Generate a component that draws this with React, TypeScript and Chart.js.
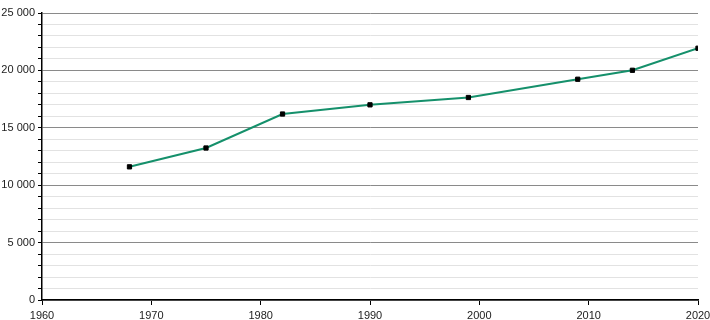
import React, { useEffect, useRef } from "react";
import { Chart, registerables } from "chart.js";

Chart.register(...registerables);

const years = [1968, 1975, 1982, 1990, 1999, 2009, 2014, 2020];
const population = [11600, 13240, 16200, 17000, 17640, 19230, 20010, 21930];
const xTicks = [1960, 1970, 1980, 1990, 2000, 2010, 2020];

const fmt = (v: number) =>
  String(v).replace(/\B(?=(\d{3})+(?!\d))/g, " ");

export default function App() {
  const ref = useRef<HTMLCanvasElement | null>(null);
  useEffect(() => {
    if (!ref.current) return;
    const chart = new Chart(ref.current, {
      type: "line",
      data: {
        datasets: [
          {
            data: years.map((y, i) => ({ x: y, y: population[i] })),
            borderColor: "#15906b",
            borderWidth: 2,
            pointStyle: "rect",
            pointRadius: 3,
            pointBorderWidth: 1,
            pointBackgroundColor: "#000",
            pointBorderColor: "#000",
            tension: 0,
          },
        ],
      },
      options: {
        animation: false,
        responsive: false,
        layout: { padding: { top: 13, right: 12, left: 0, bottom: 0 } },
        plugins: { legend: { display: false }, tooltip: { enabled: false } },
        scales: {
          x: {
            type: "linear",
            min: 1960,
            max: 2020,
            afterBuildTicks: (axis: any) => {
              axis.ticks = xTicks.map((v) => ({ value: v }));
            },
            afterFit: (axis: any) => {
              axis.height = 20;
              axis.paddingLeft = 0;
              axis.paddingRight = 0;
            },
            ticks: {
              callback: (v: any) => String(v),
              color: "#222",
              font: { family: "Liberation Sans, Arial", size: 11 },
              maxRotation: 0,
              padding: 4,
            },
            grid: {
              drawOnChartArea: false,
              drawTicks: true,
              tickLength: 5,
              tickColor: "#000",
            },
            border: { color: "#000", width: 1.5 },
          },
          y: {
            min: 0,
            max: 25000,
            afterFit: (axis: any) => {
              axis.width = 42;
              axis.paddingTop = 0;
              axis.paddingBottom = 0;
            },
            ticks: {
              stepSize: 1000,
              autoSkip: false,
              callback: (v: any) => (v % 5000 === 0 ? fmt(v) : ""),
              color: "#222",
              font: { family: "Liberation Sans, Arial", size: 11 },
              padding: 3,
            },
            grid: {
              color: (ctx: any) =>
                ctx.tick && ctx.tick.value % 5000 === 0 ? "#8a8a8a" : "#e2e2e2",
              lineWidth: 1,
              tickLength: 4,
              tickColor: "#000",
            },
            border: { color: "#000", width: 1.5 },
          },
        },
      },
    });
    return () => chart.destroy();
  }, []);
  return (
    <div style={{ position: "fixed", left: 0, top: 0, width: 710, height: 320, background: "#fff" }}>
      <canvas ref={ref} width={710} height={320} />
    </div>
  );
}
